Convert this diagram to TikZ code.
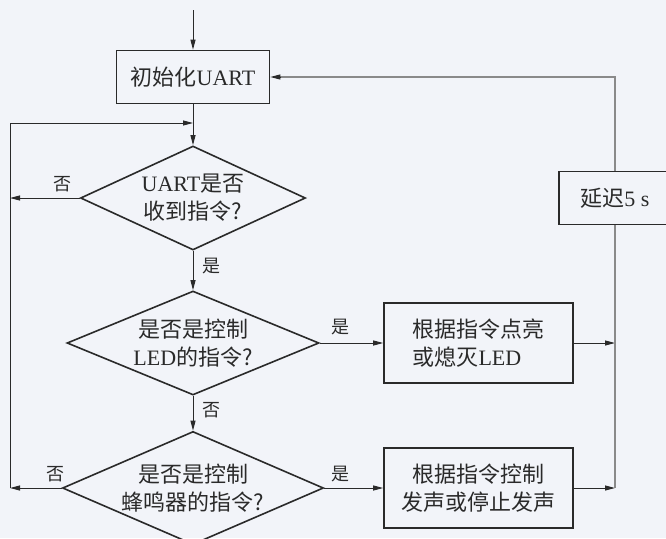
\documentclass[tikz,border=0pt]{standalone}
\usepackage{fontspec}
\setmainfont{Liberation Serif}
\newfontfamily\cjk{Noto Sans CJK SC}
\newcommand\zh[1]{{\cjk #1}}
\usetikzlibrary{shapes.geometric,arrows.meta}
\definecolor{bg}{HTML}{F2F4F9}
\definecolor{ink}{HTML}{2A2A2A}
\definecolor{greyline}{HTML}{8A8A8A}
\tikzset{
  box/.style={draw=ink,line width=1.6pt,inner sep=2pt,align=center,font=\fontsize{22}{28}\selectfont,text=ink},
  dia/.style={draw=ink,diamond,aspect=2.2,line width=1.6pt,inner sep=0pt,align=center,font=\fontsize{22}{28}\selectfont,text=ink},
  arr/.style={draw=ink,line width=1pt,-{Triangle[length=10pt,width=5pt]}},
  conn/.style={draw=ink,line width=1pt},
  gconn/.style={draw=greyline,line width=1.2pt},
  lab/.style={font=\fontsize{18}{20}\selectfont,text=ink,inner sep=0pt}
}
\begin{document}
\begin{tikzpicture}[x=1pt,y=-1pt]
\useasboundingbox (0,0) rectangle (666,538);
\clip (0,0) rectangle (666,538);
\fill[bg] (0,0) rectangle (666,538);
% nodes
\node[box,minimum width=153pt,minimum height=53pt] (init) at (193,77) {\zh{初始化}UART};
\node[dia,minimum width=225pt,minimum height=104pt] (d1) at (193,198) {UART\zh{是否}\\\zh{收到指令?}};
\node[dia,minimum width=252pt,minimum height=104pt] (d2) at (193,343) {\zh{是否是控制}\\LED\zh{的指令?}};
\node[dia,minimum width=261pt,minimum height=106pt] (d3) at (193,488) {\zh{是否是控制}\\\zh{蜂鸣器的指令?}};
\node[box,minimum width=189pt,minimum height=80pt,align=left] (led) at (478.5,343) {\zh{根据指令点亮}\\\zh{或熄灭}LED};
\node[box,minimum width=189pt,minimum height=80pt] (buz) at (478.5,488) {\zh{根据指令控制}\\\zh{发声或停止发声}};
\node[box,minimum width=112pt,minimum height=53pt] (delay) at (615,198) {\zh{延迟}5 s};
% coordinates
\coordinate (top) at (193,10);
\coordinate (L1) at (10,123);
\coordinate (J1) at (193,123);
\coordinate (L2) at (10,198);
\coordinate (L4) at (10,488);
\coordinate (R2) at (615,343);
\coordinate (R3) at (615,488);
\coordinate (R0) at (615,77);
% connectors
\draw[arr] (top) -- (init.north);
\draw[arr] (init.south) -- (d1.north);
\draw[conn] (L4) -- (L1);
\draw[arr] (L1) -- (J1);
\draw[arr] (d1.west) -- (L2);
\draw[arr] (d1.south) -- (d2.north);
\draw[arr] (d2.east) -- (led.west);
\draw[arr] (d2.south) -- (d3.north);
\draw[arr] (d3.west) -- (L4);
\draw[arr] (d3.east) -- (buz.west);
\draw[arr] (led.east) -- (R2);
\draw[arr] (buz.east) -- (R3);
\draw[gconn] (R3) -- (delay.south);
\draw[gconn] (delay.north) -- (R0) -- ([xshift=10pt]init.east);
\draw[arr] ([xshift=11pt]init.east) -- (init.east);
% labels
\node[lab] (n1) at (62,184) {\zh{否}};
\node[lab] (y1) at (211,266) {\zh{是}};
\node[lab] (y2) at (340,327) {\zh{是}};
\node[lab] (n2) at (211,410) {\zh{否}};
\node[lab] (n3) at (55,474) {\zh{否}};
\node[lab] (y3) at (340,474) {\zh{是}};
\end{tikzpicture}
\end{document}
